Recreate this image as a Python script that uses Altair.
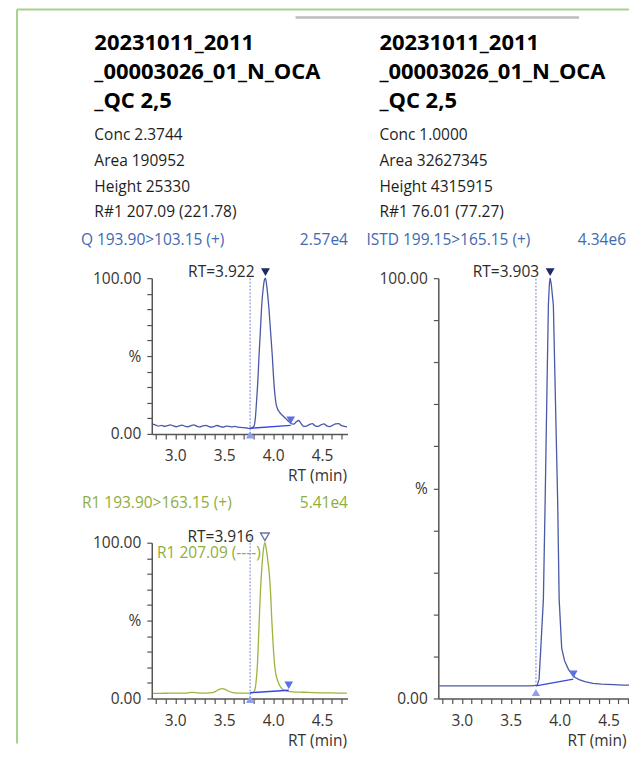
import altair as alt
import pandas as pd

FONT = "Open Sans"
X_DOMAIN = [2.76, 4.76]
Y_DOMAIN = [0, 100]

# ---------------- header texts ----------------
TITLE_LINES = ["20231011_2011", "_00003026_01_N_OCA", "_QC 2,5"]
LEFT_INFO = ["Conc 2.3744", "Area 190952", "Height 25330", "R#1 207.09 (221.78)"]
RIGHT_INFO = ["Conc 1.0000", "Area 32627345", "Height 4315915", "R#1 76.01 (77.27)"]
Q_LABEL, Q_MAX = "Q 193.90>103.15 (+)", "2.57e4"
R1_LABEL, R1_MAX = "R1 193.90>163.15 (+)", "5.41e4"
ISTD_LABEL, ISTD_MAX = "ISTD 199.15>165.15 (+)", "4.34e6"
R1_RATIO = "R1 207.09 (----)"

# ---------------- Q trace (top left) ----------------
q_rt = [2.77, 2.80, 2.83, 2.86, 2.89, 2.92, 2.95, 2.98, 3.01, 3.04, 3.07, 3.10, 3.13, 3.16,
        3.19, 3.22, 3.25, 3.28, 3.31, 3.34, 3.37, 3.40, 3.43, 3.46, 3.49, 3.52, 3.55, 3.58,
        3.61, 3.64, 3.67, 3.70, 3.73, 3.76,
        3.785, 3.805, 3.82, 3.83, 3.845, 3.856, 3.87, 3.883, 3.90, 3.912, 3.922, 3.935, 3.947,
        3.958, 3.975, 3.992, 4.005, 4.019, 4.03, 4.043, 4.065, 4.094, 4.13, 4.16, 4.19, 4.21,
        4.235, 4.26, 4.285,
        4.31, 4.34, 4.37, 4.40, 4.43, 4.46, 4.49, 4.52, 4.55, 4.58, 4.61, 4.64, 4.67, 4.70,
        4.73, 4.755]
q_pct = [6.3, 5.7, 5.0, 5.5, 4.8, 5.3, 5.8, 5.1, 4.6, 5.2, 5.6, 4.9, 4.6, 5.3,
         5.8, 5.0, 4.5, 5.1, 5.5, 4.8, 4.4, 4.9, 5.4, 4.7, 4.3, 5.0, 4.9, 4.5,
         4.8, 4.4, 4.2, 4.0, 3.8, 3.6,
         3.9, 5.0, 11, 20, 35, 50, 66, 82, 94, 99, 100, 95, 88,
         80, 65, 50, 36, 25, 19.5, 16.5, 14, 12, 9.8, 8.0, 6.4, 6.3,
         7.6, 8.6, 6.8,
         4.8, 5.0, 6.0, 6.6, 5.2, 4.8, 5.8, 6.5, 5.1, 4.7, 5.6, 6.4, 6.6, 5.3,
         4.9, 4.6]
q_base_rt = [3.765, 4.18]
q_base_pct = [3.6, 5.5]
q_peak = 3.922

# ---------------- R1 trace (bottom left) ----------------
r1_rt = [2.77, 2.85, 2.95, 3.05, 3.12, 3.17, 3.21, 3.26, 3.32, 3.38,
         3.42, 3.45, 3.48, 3.51, 3.54, 3.58, 3.63, 3.70, 3.76, 3.79,
         3.81, 3.825, 3.84, 3.855, 3.87, 3.885, 3.90, 3.916, 3.93, 3.945,
         3.96, 3.975, 3.987, 4.00, 4.015, 4.03, 4.05, 4.065, 4.09, 4.12,
         4.15, 4.20, 4.30, 4.40, 4.50, 4.60, 4.70, 4.755]
r1_pct = [3.3, 3.3, 3.4, 3.4, 3.5, 3.9, 3.8, 3.5, 3.5, 3.8,
          4.8, 5.9, 6.3, 5.8, 4.8, 3.9, 3.5, 3.4, 3.5, 3.8,
          5.0, 10, 22, 45, 68, 84, 95, 100, 96, 89,
          81, 67, 50, 35, 22, 15, 11, 8.5, 6.3, 5.2,
          4.6, 4.3, 4.0, 3.8, 3.6, 3.6, 3.4, 3.4]
r1_base_rt = [3.765, 4.16]
r1_base_pct = [3.7, 5.3]
r1_peak = 3.916

# ---------------- ISTD trace (right) ----------------
istd_rt = [2.77, 2.95, 3.15, 3.35, 3.55, 3.70, 3.77, 3.79, 3.81, 3.834,
           3.852, 3.868, 3.885, 3.895, 3.903, 3.915, 3.936, 3.958, 3.98, 3.995,
           4.021, 4.05, 4.089, 4.12, 4.158, 4.20, 4.258, 4.34, 4.428, 4.55,
           4.65, 4.755]
istd_pct = [3.0, 3.0, 3.0, 3.0, 3.0, 3.0, 3.1, 4.6, 13, 23.7,
            47, 70, 93.6, 98.5, 100, 98.5, 93.6, 70, 47, 23.7,
            12, 9, 7, 6, 5, 4.5, 4.0, 3.6, 3.4, 3.3,
            3.2, 3.2]
istd_base_rt = [3.758, 4.14]
istd_base_pct = [3.0, 4.6]
istd_peak = 3.903

# ---------------- styling ----------------
BLUE_TRACE = "#4a59a6"
GREEN_TRACE = "#9db43c"
BASE_LINE = "#3647e0"
PEAK_MARK = "#1b2b63"
END_MARK = "#5b6fe6"
START_MARK = "#8d9ff2"
DASH = "#8f9cd8"
HDR_BLUE = "#4169b0"
HDR_GREEN = "#8fae3b"
TXT = "#1e1e1e"

PANEL_W = 196
SMALL_H = 156
TALL_H = 421

ONE = pd.DataFrame({"k": [0]})


def make_x_axis(offset, title_x):
    return alt.Axis(
        values=[round(2.8 + 0.1 * i, 1) for i in range(20)],
        labelExpr="abs(datum.value*2 - round(datum.value*2)) < 0.001 ? format(datum.value, '.1f') : ''",
        tickSize=5, labelPadding=10, labelFlush=False, labelOverlap=False, grid=False,
        offset=offset,
        title="RT (min)", titleX=title_x, titleY=47, titleAlign="right", titleBaseline="alphabetic",
        titleFontWeight="normal", titleFontSize=15.5, titleColor="#333333", titleFont=FONT,
    )


y_axis = alt.Axis(
    values=list(range(0, 101, 10)),
    labelExpr="datum.value == 100 ? '100.00' : (datum.value == 0 ? '0.00' : (datum.value == 50 ? '%' : ''))",
    tickSize=5, labelPadding=6, labelOverlap=False, grid=False, title=None,
)


def txt(s, x, y, size=15.5, color=TXT, weight="normal", align="left"):
    return alt.Chart(ONE).mark_text(
        text=s, font=FONT, fontSize=size, fontWeight=weight, color=color,
        align=align, baseline="alphabetic"
    ).encode(x=alt.value(x), y=alt.value(y))


def panel(trace_rt, trace_pct, color, base_rt, base_pct, peak_rt, start_off,
          dash_bottom, dash_top, open_peak, plot_h, interp, title_x, extras):
    X = alt.X("rt:Q", scale=alt.Scale(domain=X_DOMAIN, nice=False, zero=False),
              axis=make_x_axis(plot_h - SMALL_H, title_x))
    Y = alt.Y("pct:Q", scale=alt.Scale(domain=Y_DOMAIN, nice=False, range=[plot_h, 0]),
              axis=y_axis)
    trace = pd.DataFrame({"rt": trace_rt, "pct": trace_pct})
    base = pd.DataFrame({"rt": base_rt, "pct": base_pct})
    dash = pd.DataFrame({"rt": [base_rt[0]], "pct": [dash_bottom], "pct2": [dash_top]})
    peak = pd.DataFrame({"rt": [peak_rt], "pct": [100]})
    endp = pd.DataFrame({"rt": [base_rt[1]], "pct": [base_pct[1]]})
    startp = pd.DataFrame({"rt": [base_rt[0]], "pct": [0]})

    dash_l = alt.Chart(dash).mark_rule(color=DASH, strokeWidth=1.2, strokeDash=[2, 1.5]).encode(
        X, Y, y2="pct2:Q")
    line = alt.Chart(trace).mark_line(color=color, strokeWidth=1.3, interpolate=interp).encode(X, Y)
    base_l = alt.Chart(base).mark_line(color=BASE_LINE, strokeWidth=1.4).encode(X, Y)
    if open_peak:
        pk = alt.Chart(peak).mark_point(shape="triangle-down", filled=False, size=75,
                                        color="#2a3a7a", strokeWidth=1.4, yOffset=-6).encode(X, Y)
    else:
        pk = alt.Chart(peak).mark_point(shape="triangle-down", filled=True, size=80,
                                        color=PEAK_MARK, opacity=1, yOffset=-6).encode(X, Y)
    en = alt.Chart(endp).mark_point(shape="triangle-down", filled=True, size=75,
                                    color=END_MARK, opacity=1, yOffset=-5).encode(X, Y)
    st = alt.Chart(startp).mark_point(shape="triangle-up", filled=True, size=70,
                                      color=START_MARK, opacity=1, yOffset=start_off).encode(X, Y)
    rt_txt = alt.Chart(peak).mark_text(
        text=f"RT={peak_rt:.3f}", font=FONT, fontSize=15.5, color="#2b2b2b",
        align="right", baseline="alphabetic", dx=-11, dy=-1).encode(X, Y)
    # every cell of the grid is SMALL_H tall; the tall panel draws past its cell
    return alt.layer(dash_l, line, base_l, pk, en, st, rt_txt, *extras).properties(
        width=PANEL_W, height=SMALL_H)


# ---------- left top panel extras (frame + header) ----------
p1_extras = [
    alt.Chart(ONE).mark_rule(color="#a9d18e", strokeWidth=2).encode(
        x=alt.value(-135), y=alt.value(-269), y2=alt.value(466)),
    alt.Chart(ONE).mark_rule(color="#a9d18e", strokeWidth=2).encode(
        x=alt.value(-135), x2=alt.value(483), y=alt.value(-269)),
    alt.Chart(ONE).mark_rule(color="#bdbdbd", strokeWidth=2.5).encode(
        x=alt.value(144), x2=alt.value(428), y=alt.value(-261)),
]
for i, s in enumerate(TITLE_LINES):
    p1_extras.append(txt(s, -57.5, [-228.5, -199, -170][i], size=22, color="#000000", weight="bold"))
for i, s in enumerate(LEFT_INFO):
    p1_extras.append(txt(s, -57.5, [-138, -112, -86, -61][i]))
p1_extras.append(txt(Q_LABEL, -71, -33, color=HDR_BLUE))
p1_extras.append(txt(Q_MAX, 196.5, -33, color=HDR_BLUE, align="right"))

p3_extras = []
for i, s in enumerate(TITLE_LINES):
    p3_extras.append(txt(s, -59, [-228.5, -199, -170][i], size=22, color="#000000", weight="bold"))
for i, s in enumerate(RIGHT_INFO):
    p3_extras.append(txt(s, -59, [-138, -112, -86, -61][i]))
p3_extras.append(txt(ISTD_LABEL, -72, -33, color=HDR_BLUE))
p3_extras.append(txt(ISTD_MAX, 188, -33, color=HDR_BLUE, align="right"))

p2_extras = [
    txt(R1_LABEL, -70, -35, color=HDR_GREEN),
    txt(R1_MAX, 196.5, -35, color=HDR_GREEN, align="right"),
    txt(R1_RATIO, 5.3, 15.5, color=HDR_GREEN),
]

p1 = panel(q_rt, q_pct, BLUE_TRACE, q_base_rt, q_base_pct, q_peak, 1, 0, 100, False, SMALL_H,
           "monotone", 195, p1_extras)
p2 = panel(r1_rt, r1_pct, GREEN_TRACE, r1_base_rt, r1_base_pct, r1_peak, 1, 0, 104, True, SMALL_H,
           "monotone", 195, p2_extras)
p3 = panel(istd_rt, istd_pct, BLUE_TRACE, istd_base_rt, istd_base_pct, istd_peak, -6, 3, 100, False,
           TALL_H, "linear", 188, p3_extras)

chart = alt.concat(
    p1, p3, p2, columns=2, spacing={"row": 109, "column": 91}, bounds="flush"
).properties(
    padding={"left": 8, "top": 0, "right": -8, "bottom": 0}, background="white"
).configure_view(stroke=None).configure_axis(
    labelFont=FONT, labelFontSize=15.5, labelColor="#3a3530",
    domainColor="#555555", tickColor="#555555", domainWidth=1.5, tickWidth=1.2,
)

chart.save("out.html", embed_options={"renderer": "svg", "actions": False})
